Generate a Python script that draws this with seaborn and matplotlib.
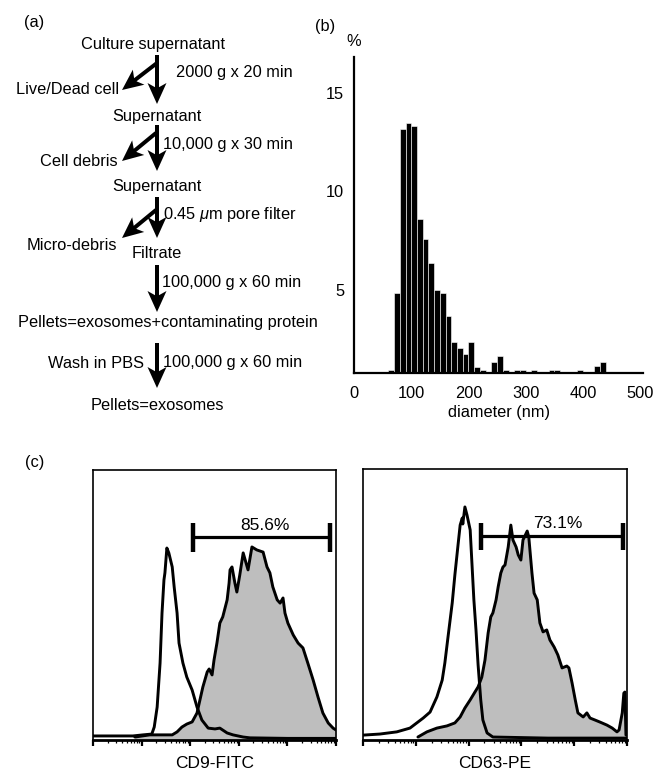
import numpy as np
import matplotlib
matplotlib.use("Agg")
import matplotlib.pyplot as plt
import seaborn as sns
from matplotlib.patches import FancyArrow
from matplotlib.ticker import LogLocator, NullFormatter

sns.set_theme(style="white")
plt.rcParams['font.family'] = ['Liberation Sans', 'DejaVu Sans']
plt.rcParams['mathtext.fontset'] = 'custom'
plt.rcParams['mathtext.rm'] = 'Liberation Sans'
plt.rcParams['mathtext.it'] = 'Liberation Sans:italic'
for k in ['text.color', 'axes.labelcolor', 'xtick.color', 'ytick.color', 'axes.edgecolor']:
    plt.rcParams[k] = 'black'

# ---------------- data: (b) size distribution ----------------
bin_start_nm = [60, 70, 80, 90, 100, 110, 120, 130, 140, 150, 160, 170, 180, 190,
                200, 210, 220, 230, 240, 250, 260, 270, 280, 290, 300, 310, 320,
                330, 340, 350, 360, 370, 380, 390, 400, 410, 420, 430]
size_pct = [0.97, 4.86, 13.16, 13.46, 13.3, 8.6, 7.56, 6.38, 5.0, 4.86, 3.7, 2.37,
            2.05, 1.75, 2.37, 1.12, 0.97, 0.0, 1.36, 1.66, 0.97, 0.0, 0.97, 0.97,
            0.0, 0.97, 0.0, 0.0, 0.97, 0.97, 0.0, 0.0, 0.0, 0.97, 0.0, 0.0, 1.14, 1.36]
bin_width_nm = 10
size_xticks = [0, 100, 200, 300, 400, 500]
size_yticks = [5, 10, 15]

# ---------------- data: (c) flow cytometry histograms (log10 intensity, % of scale) ----
cd9_iso_logx = [0.00, 0.82, 1.03, 1.21, 1.26, 1.32, 1.38, 1.42, 1.46, 1.48, 1.52, 1.56,
                1.63, 1.67, 1.73, 1.77, 1.85, 1.93, 2.04, 2.14, 2.24, 2.37, 2.51, 2.61,
                2.76, 2.88, 3.09, 3.23, 4.00, 5.00]
cd9_iso_pct = [1.5, 1.5, 1.9, 2.2, 4.8, 12.2, 28.5, 47.0, 59.3, 61.9, 71.1, 69.3,
               64.1, 56.7, 47.0, 35.9, 28.5, 23.3, 18.5, 12.2, 7.4, 4.4, 4.1, 4.4,
               2.6, 1.9, 1.1, 0.8, 0.6, 0.6]
cd9_logx = [0.86, 1.17, 1.63, 1.73, 1.83, 1.93, 2.04, 2.14, 2.20, 2.26, 2.35, 2.39,
            2.45, 2.49, 2.55, 2.61, 2.67, 2.76, 2.80, 2.82, 2.86, 2.92, 2.96, 3.02,
            3.09, 3.19, 3.27, 3.37, 3.50, 3.58, 3.64, 3.70, 3.79, 3.85, 3.91, 3.95,
            4.01, 4.12, 4.22, 4.32, 4.42, 4.53, 4.63, 4.73, 4.84, 4.94, 5.00]
cd9_pct = [1.1, 1.9, 1.9, 3.0, 4.8, 5.9, 6.7, 10.0, 14.8, 19.6, 25.2, 26.3,
           24.1, 29.6, 35.9, 43.3, 45.6, 51.9, 58.1, 63.0, 64.1, 58.1, 54.8, 61.1,
           69.3, 63.0, 71.5, 70.4, 69.6, 64.1, 61.9, 56.7, 51.9, 50.7, 52.6, 47.0,
           43.3, 38.9, 35.9, 34.1, 28.5, 22.2, 15.9, 10.0, 6.3, 4.4, 3.7]
cd63_iso_logx = [0.00, 0.32, 0.64, 0.89, 1.14, 1.27, 1.40, 1.50, 1.55, 1.61, 1.69, 1.74,
                 1.80, 1.84, 1.88, 1.89, 1.93, 1.97, 2.03, 2.06, 2.10, 2.14, 2.18, 2.23,
                 2.27, 2.35, 2.46, 3.50, 5.00]
cd63_iso_pct = [1.8, 2.2, 3.0, 4.4, 8.1, 10.3, 15.9, 22.1, 28.4, 38.0, 50.6, 60.9,
                72.0, 79.3, 81.9, 79.7, 86.0, 83.0, 77.5, 66.4, 51.7, 40.6, 27.7, 14.8,
                7.4, 2.6, 1.1, 0.7, 0.7]
cd63_logx = [1.04, 1.21, 1.40, 1.59, 1.74, 1.84, 1.93, 2.03, 2.12, 2.18, 2.25, 2.31,
             2.37, 2.42, 2.46, 2.52, 2.56, 2.61, 2.65, 2.69, 2.75, 2.80, 2.84, 2.90,
             2.94, 2.99, 3.03, 3.11, 3.14, 3.20, 3.24, 3.30, 3.35, 3.41, 3.48, 3.54,
             3.62, 3.69, 3.77, 3.86, 3.90, 3.96, 4.02, 4.07, 4.17, 4.24, 4.30, 4.39,
             4.49, 4.62, 4.72, 4.81, 4.85, 4.91, 4.94, 4.96, 4.98]
cd63_pct = [1.1, 3.0, 4.4, 5.2, 6.3, 8.5, 11.8, 14.8, 17.7, 19.6, 23.2, 29.5,
            39.5, 45.4, 46.9, 51.7, 56.5, 61.6, 63.8, 64.6, 71.2, 79.3, 73.8, 71.2,
            68.3, 66.4, 73.8, 77.1, 74.9, 61.6, 54.2, 51.7, 43.2, 39.9, 40.6, 36.9,
            34.3, 31.4, 26.6, 27.3, 26.6, 21.0, 14.8, 10.0, 8.5, 10.0, 8.1, 7.4,
            6.6, 5.5, 4.4, 3.0, 3.7, 10.0, 17.3, 17.7, 1.8]
cd9_gate_logx = [2.06, 4.88]
cd63_gate_logx = [2.23, 4.92]
gate_labels = ["85.6%", "73.1%"]
markers = ["CD9-FITC", "CD63-PE"]

W, H = 660, 776
fig = plt.figure(figsize=(W / 100, H / 100), dpi=100)

def frac(x0, y0, x1, y1):
    return [x0 / W, 1 - y1 / H, (x1 - x0) / W, (y1 - y0) / H]

FS = 11.8

# ---------------- (b) histogram ----------------
axb = fig.add_axes(frac(354, 57, 643, 373))
edges = list(bin_start_nm) + [bin_start_nm[-1] + bin_width_nm]
centers = [b + bin_width_nm / 2 for b in bin_start_nm]
sns.histplot(x=centers, weights=size_pct, bins=edges, color="black", alpha=1,
             edgecolor="white", linewidth=0.4, ax=axb)
axb.set_xlim(0, 505)
axb.set_ylim(0.8, 16.8)
axb.set_xticks(size_xticks)
axb.set_yticks(size_yticks)
axb.tick_params(length=0, labelsize=FS, pad=7)
axb.tick_params(axis="x", pad=9)
for s in ["top", "right"]:
    axb.spines[s].set_visible(False)
for s in ["left", "bottom"]:
    axb.spines[s].set_color("black")
    axb.spines[s].set_linewidth(1.6)
axb.set_ylabel("")
axb.set_xlabel("diameter (nm)", fontsize=FS, labelpad=3)

# ---------------- (c) flow histograms ----------------
flow = [
    (frac(93, 470, 336, 740), cd9_iso_logx, cd9_iso_pct, cd9_logx, cd9_pct, cd9_gate_logx),
    (frac(363, 469, 627, 740), cd63_iso_logx, cd63_iso_pct, cd63_logx, cd63_pct, cd63_gate_logx),
]
gate_y = [75.2, 75.3]
gate_cap = [(69.6, 80.4), (70.1, 80.1)]
label_pos = [(3.54, 79.3), (3.69, 79.9)]
for i, (rect, ix, iy, fx, fy, g) in enumerate(flow):
    ax = fig.add_axes(rect)
    fxv = 10 ** np.asarray(fx)
    ixv = 10 ** np.asarray(ix)
    ax.fill_between(fxv, fy, 0, color="#bebebe", lw=0, zorder=1)
    sns.lineplot(x=fxv, y=fy, color="black", lw=2.1, ax=ax, estimator=None, sort=False, zorder=2)
    sns.lineplot(x=ixv, y=iy, color="black", lw=2.1, ax=ax, estimator=None, sort=False, zorder=3)
    ax.set_xscale("log")
    ax.set_xlim(1, 1e5)
    ax.set_ylim(0, 100)
    ax.set_yticks([])
    ax.xaxis.set_major_locator(LogLocator(base=10, numticks=10))
    ax.xaxis.set_minor_locator(LogLocator(base=10, subs=np.arange(2, 10), numticks=20))
    ax.xaxis.set_major_formatter(NullFormatter())
    ax.xaxis.set_minor_formatter(NullFormatter())
    ax.tick_params(axis="x", which="major", direction="out", length=4, width=1.6, bottom=True, color="black")
    ax.tick_params(axis="x", which="minor", direction="out", length=2, width=0.9, bottom=True, color="black")
    for s in ax.spines.values():
        s.set_color("black")
        s.set_linewidth(1.2)
    ax.spines["bottom"].set_linewidth(2.0)
    gx = 10 ** np.asarray(g)
    ax.plot(gx, [gate_y[i]] * 2, color="black", lw=2.3, solid_capstyle="butt", zorder=4)
    ax.vlines(gx, gate_cap[i][0], gate_cap[i][1], color="black", lw=3.2, zorder=4)
    ax.text(10 ** label_pos[i][0], label_pos[i][1], gate_labels[i], ha="center", va="center",
            fontsize=12.5, zorder=5)
    ax.set_xlabel(markers[i], fontsize=12.5, labelpad=4)
    ax.set_ylabel("")

# ---------------- overlay: (a) flowchart and panel labels ----------------
ov = fig.add_axes([0, 0, 1, 1])
ov.set_xlim(0, W)
ov.set_ylim(H, 0)
ov.axis("off")
ov.patch.set_alpha(0)

def txt(s, x, y, ha="center", fs=FS):
    ov.text(x, y, s, ha=ha, va="center", fontsize=fs, color="black")

txt("(a)", 34, 22)
txt("(b)", 325, 27)
txt("(c)", 35, 463)
txt("%", 354, 41)

txt("Culture supernatant", 153, 45)
txt("2000 g x 20 min", 176, 72, ha="left")
txt("Live/Dead cell", 68, 89)
txt("Supernatant", 157, 117)
txt("10,000 g x 30 min", 163, 145, ha="left")
txt("Cell debris", 79, 162)
txt("Supernatant", 157, 186)
txt(r"0.45 $\mu$m pore filter", 163, 214, ha="left")
txt("Micro-debris", 72, 245)
txt("Filtrate", 157, 253)
txt("100,000 g x 60 min", 162, 283, ha="left")
txt("Pellets=exosomes+contaminating protein", 168, 323)
txt("Wash in PBS", 144, 363, ha="right")
txt("100,000 g x 60 min", 163, 363, ha="left")
txt("Pellets=exosomes", 157, 405)

def arrow(x0, y0, x1, y1):
    a = FancyArrow(x0, y0, x1 - x0, y1 - y0, width=4, head_width=19, head_length=21,
                   length_includes_head=True, overhang=0.2, color="black", lw=0)
    ov.add_patch(a)

arrow(157, 55, 157, 104)
arrow(157, 63, 122, 90)
arrow(157, 125, 157, 171)
arrow(156, 133, 122, 161)
arrow(157, 197, 157, 238)
arrow(156, 210, 122, 238)
arrow(157, 265, 157, 312)
arrow(157, 343, 157, 388)

fig.savefig("out.png", dpi=100)
